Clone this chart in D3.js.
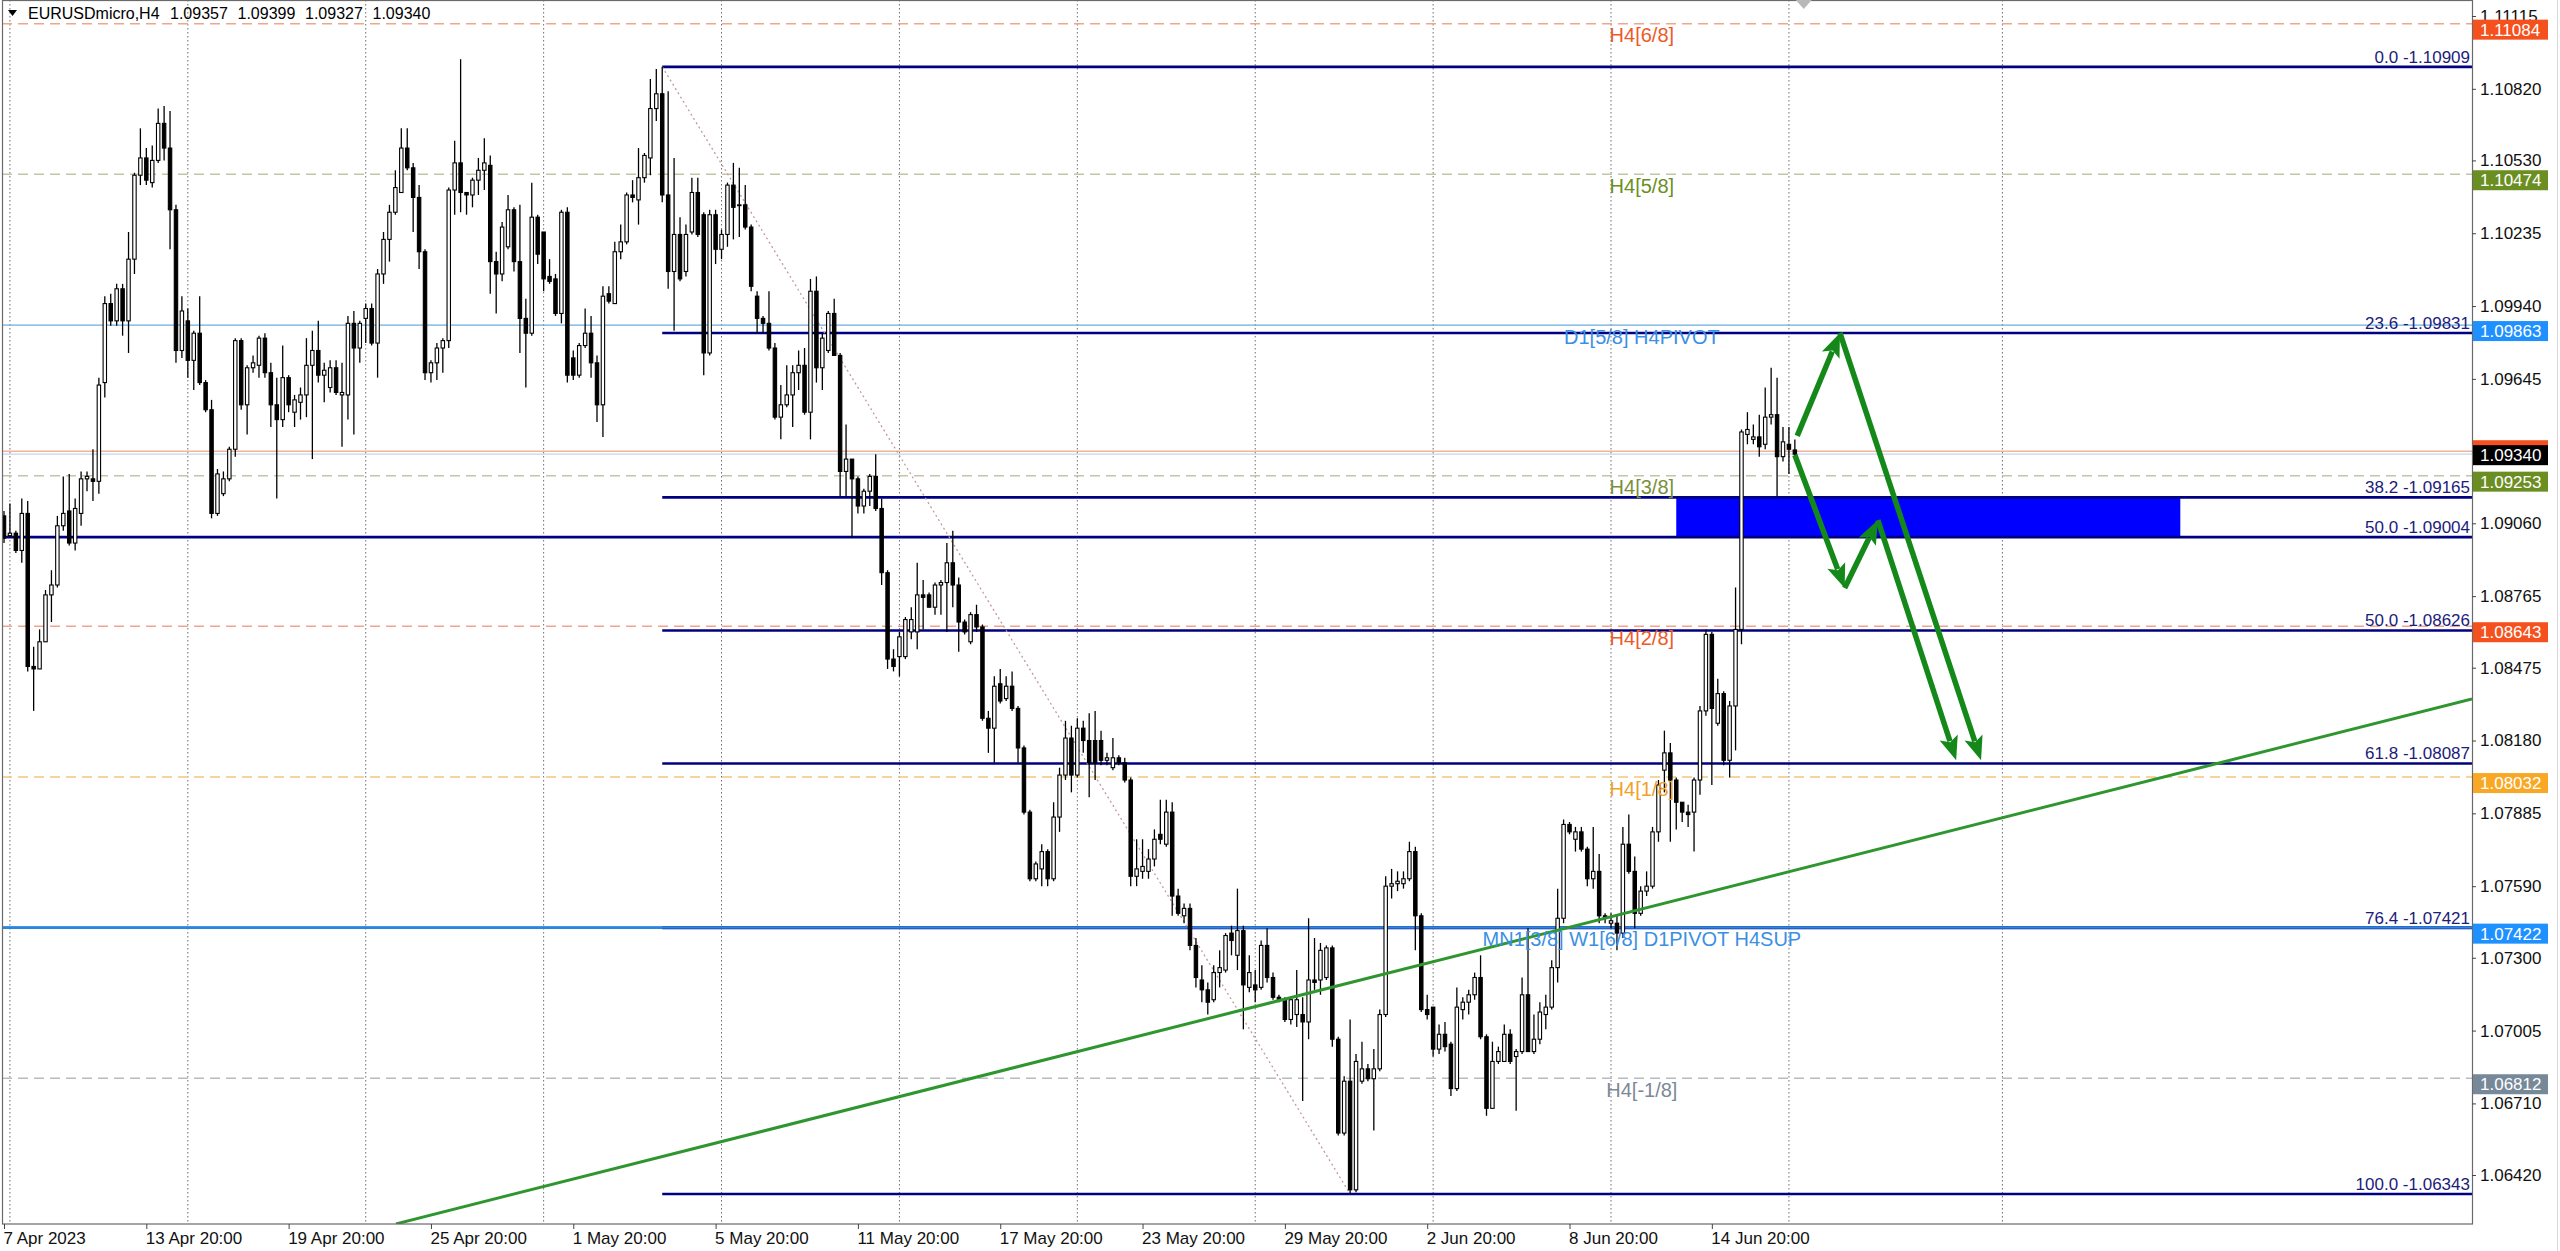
<!DOCTYPE html>
<html><head><meta charset="utf-8">
<script src="https://cdn.jsdelivr.net/npm/d3@7"></script>
<style>
html,body{margin:0;padding:0;background:#fff;overflow:hidden}
svg{display:block;font-family:"Liberation Sans",Arial,sans-serif}
</style></head><body>
<svg id="c" width="2560" height="1251"></svg>
<script>
// ---------------- DATA ----------------
const symbolTitle = "EURUSDmicro,H4";
const opens = [
1.0909,1.0901,1.0902,1.0895,1.0910,1.0848,1.0847,1.0858,1.0877,1.0881,
1.0905,1.0911,1.0898,1.0910,1.0924,1.0924,1.0923,1.0963,1.0995,1.0988,
1.1001,1.0988,1.1013,1.1047,1.1054,1.1044,1.1053,1.1068,1.1058,1.1033,
1.0976,1.0988,1.0972,1.0983,1.0963,1.0952,1.0910,1.0918,1.0924,1.0936,
1.0980,1.0954,1.0969,1.0970,1.0981,1.0967,1.0954,1.0948,1.0965,1.0951,
1.0955,1.0958,1.0970,1.0976,1.0966,1.0961,1.0969,1.0958,1.0958,1.0987,
1.0977,1.0989,1.0993,1.0979,1.1007,1.1021,1.1032,1.1040,1.1058,1.1050,
1.1038,1.1016,1.0967,1.0971,1.0977,1.0980,1.1041,1.1052,1.1040,1.1039,
1.1045,1.1049,1.1051,1.1012,1.1007,1.1018,1.1033,1.1012,1.0989,1.0983,
1.1030,1.1024,1.1006,1.1005,1.0991,1.1032,1.0973,1.0966,1.0978,1.0983,
1.0971,1.0954,1.0999,1.0995,1.1016,1.1020,1.1039,1.1037,1.1046,1.1054,
1.1074,1.1080,1.1039,1.1008,1.1023,1.1008,1.1024,1.1040,1.1031,1.0975,
1.1031,1.1017,1.1023,1.1043,1.1035,1.1035,1.1026,1.0998,1.0989,1.0987,
1.0977,1.0949,1.0954,1.0958,1.0967,1.0970,1.0951,1.1000,1.0969,1.0976,
1.0991,1.0974,1.0927,1.0932,1.0924,1.0913,1.0919,1.0925,1.0912,1.0886,
1.0851,1.0852,1.0852,1.0862,1.0862,1.0877,1.0877,1.0872,1.0881,1.0882,
1.0890,1.0881,1.0866,1.0858,1.0869,1.0864,1.0827,1.0823,1.0841,1.0835,
1.0840,1.0831,1.0815,1.0789,1.0762,1.0766,1.0773,1.0762,1.0787,1.0804,
1.0819,1.0804,1.0823,1.0818,1.0818,1.0818,1.0810,1.0807,1.0811,1.0809,
1.0802,1.0763,1.0765,1.0765,1.0770,1.0780,1.0776,1.0789,1.0755,1.0747,
1.0750,1.0735,1.0721,1.0717,1.0713,1.0724,1.0725,1.0740,1.0731,1.0741,
1.0718,1.0719,1.0718,1.0735,1.0722,1.0714,1.0713,1.0705,1.0707,1.0707,
1.0704,1.0721,1.0721,1.0722,1.0734,1.0697,1.0659,1.0680,1.0636,1.0680,
1.0685,1.0681,1.0685,1.0707,1.0759,1.0760,1.0760,1.0762,1.0773,1.0747,
1.0709,1.0710,1.0693,1.0699,1.0695,1.0677,1.0709,1.0712,1.0715,1.0722,
1.0698,1.0669,1.0688,1.0688,1.0699,1.0690,1.0692,1.0715,1.0692,1.0697,
1.0707,1.0710,1.0726,1.0746,1.0784,1.0778,1.0781,1.0774,1.0762,1.0765,
1.0747,1.0744,1.0744,1.0740,1.0776,1.0765,1.0748,1.0757,1.0759,1.0781,
1.0806,1.0813,1.0802,1.0793,1.0789,1.0789,1.0802,1.0830,1.0861,1.0825,
1.0837,1.0810,1.0832,1.0863,1.0942,1.0940,1.0941,1.0938,1.0949,1.0950,
1.0933,1.0938,1.09357];
const highs = [
1.0911,1.0914,1.0903,1.0916,1.0915,1.0856,1.0863,1.0879,1.0887,1.0909,
1.0925,1.0926,1.0916,1.0927,1.0927,1.0936,1.0965,1.0998,1.0999,1.1003,
1.1003,1.1024,1.1048,1.1066,1.1058,1.1059,1.1074,1.1075,1.1073,1.1035,
1.0998,1.0993,1.0984,1.0998,1.0964,1.0956,1.0928,1.0927,1.0937,1.0981,
1.0981,1.0970,1.0974,1.0982,1.0983,1.0971,1.0965,1.0978,1.0966,1.0958,
1.0961,1.0981,1.0984,1.0988,1.0971,1.0972,1.0972,1.0971,1.0990,1.0992,
1.0988,1.0995,1.0995,1.1009,1.1024,1.1035,1.1049,1.1066,1.1066,1.1052,
1.1043,1.1017,1.0972,1.0979,1.0981,1.1042,1.1061,1.1094,1.1040,1.1046,
1.1054,1.1062,1.1055,1.1016,1.1028,1.1039,1.1034,1.1035,1.0997,1.1044,
1.1031,1.1024,1.1013,1.1007,1.1033,1.1034,1.0976,1.0979,1.0993,1.0990,
1.0974,1.1002,1.1002,1.1020,1.1027,1.1040,1.1045,1.1058,1.1056,1.1086,
1.1090,1.10909,1.1081,1.1054,1.1030,1.1027,1.1046,1.1046,1.1032,1.1033,
1.1033,1.1025,1.1044,1.1052,1.1050,1.1043,1.1027,1.1000,1.0990,1.1000,
1.0979,1.0962,1.0970,1.0970,1.0976,1.0977,1.1005,1.1006,1.0983,1.0992,
1.0997,1.0975,1.0946,1.0932,1.0925,1.0920,1.0926,1.0934,1.0916,1.0887,
1.0855,1.0862,1.0868,1.0872,1.0890,1.0883,1.0878,1.0882,1.0883,1.0898,
1.0903,1.0884,1.0867,1.0870,1.0873,1.0865,1.0830,1.0844,1.0847,1.0844,
1.0846,1.0832,1.0816,1.0790,1.0769,1.0776,1.0774,1.0793,1.0807,1.0826,
1.0824,1.0827,1.0826,1.0829,1.0830,1.0822,1.0813,1.0819,1.0812,1.0811,
1.0803,1.0778,1.0778,1.0774,1.0782,1.0794,1.0794,1.0793,1.0758,1.0752,
1.0752,1.0738,1.0727,1.0720,1.0727,1.0733,1.0740,1.0743,1.0758,1.0743,
1.0731,1.0725,1.0737,1.0742,1.0724,1.0715,1.0714,1.0714,1.0725,1.0714,
1.0746,1.0738,1.0736,1.0735,1.0735,1.0698,1.0682,1.0705,1.0691,1.0696,
1.0687,1.0693,1.0709,1.0763,1.0766,1.0765,1.0765,1.0777,1.0775,1.0748,
1.0715,1.0710,1.0703,1.0704,1.0696,1.0718,1.0714,1.0717,1.0724,1.0731,
1.0699,1.0696,1.0694,1.0703,1.0701,1.0693,1.0722,1.0742,1.0707,1.0712,
1.0715,1.0729,1.0758,1.0786,1.0785,1.0783,1.0783,1.0775,1.0783,1.0772,
1.0748,1.0748,1.0747,1.0783,1.0788,1.0771,1.0759,1.0765,1.0783,1.0802,
1.0822,1.0817,1.0803,1.0793,1.0792,1.0803,1.0832,1.0863,1.0862,1.0843,
1.0838,1.0834,1.0880,1.0944,1.0951,1.0946,1.0950,1.0961,1.0969,1.0965,
1.0945,1.0945,1.09399];
const lows = [
1.0898,1.0900,1.0894,1.0890,1.0846,1.0830,1.0847,1.0858,1.0866,1.0880,
1.0903,1.0897,1.0895,1.0905,1.0919,1.0915,1.0918,1.0957,1.0986,1.0986,
1.0982,1.0975,1.1007,1.1043,1.1043,1.1042,1.1052,1.1053,1.1017,1.0971,
1.0973,1.0965,1.0960,1.0962,1.0951,1.0908,1.0909,1.0917,1.0923,1.0933,
1.0952,1.0942,1.0967,1.0965,1.0965,1.0945,1.0916,1.0945,1.0951,1.0945,
1.0948,1.0949,1.0932,1.0963,1.0955,1.0959,1.0958,1.0937,1.0948,1.0942,
1.0971,1.0979,1.0978,1.0965,1.1003,1.1012,1.1031,1.1040,1.1049,1.1024,
1.1009,1.0964,1.0963,1.0964,1.0967,1.0977,1.1031,1.1032,1.1031,1.1034,
1.1039,1.1041,1.0999,1.0991,1.1004,1.1017,1.1008,1.0975,1.0961,1.0982,
1.1011,1.1000,1.1003,1.0990,1.0987,1.0963,1.0964,1.0965,1.0977,1.0965,
1.0947,1.0941,1.0995,1.0995,1.1013,1.1019,1.1036,1.1027,1.1044,1.1047,
1.1069,1.1036,1.1001,1.0984,1.1004,1.1006,1.1023,1.1022,1.0966,1.0974,
1.1011,1.1013,1.1018,1.1021,1.1022,1.1025,1.1000,1.0983,1.0983,1.0976,
1.0948,1.0940,1.0953,1.0945,1.0960,1.0950,1.0940,1.0963,1.0960,1.0975,
1.0974,1.0917,1.0917,1.0900,1.0910,1.0910,1.0913,1.0911,1.0881,1.0847,
1.0846,1.0844,1.0851,1.0859,1.0855,1.0863,1.0872,1.0869,1.0869,1.0862,
1.0872,1.0854,1.0861,1.0857,1.0862,1.0826,1.0813,1.0809,1.0833,1.0834,
1.0830,1.0809,1.0788,1.0761,1.0761,1.0759,1.0759,1.0761,1.0781,1.0802,
1.0797,1.0803,1.0813,1.0795,1.0802,1.0808,1.0808,1.0806,1.0808,1.0801,
1.0759,1.0759,1.0762,1.0762,1.0767,1.0776,1.0775,1.0747,1.0747,1.0744,
1.0733,1.0718,1.0712,1.0707,1.0712,1.0718,1.0724,1.0731,1.0725,1.0701,
1.0716,1.0712,1.0717,1.0720,1.0713,1.0712,1.0704,1.0703,1.0702,1.0672,
1.0697,1.0717,1.0715,1.0721,1.0694,1.0658,1.0658,1.06343,1.0635,1.0679,
1.0680,1.0660,1.0684,1.0706,1.0754,1.0757,1.0758,1.0761,1.0733,1.0708,
1.0705,1.0690,1.0691,1.0692,1.0674,1.0676,1.0705,1.0707,1.0713,1.0697,
1.0666,1.0669,1.0687,1.0688,1.0687,1.0668,1.0691,1.0692,1.0691,1.0695,
1.0701,1.0709,1.0720,1.0744,1.0780,1.0773,1.0773,1.0759,1.0758,1.0744,
1.0744,1.0742,1.0733,1.0738,1.0764,1.0742,1.0747,1.0755,1.0758,1.0777,
1.0797,1.0777,1.0782,1.0785,1.0783,1.0773,1.0796,1.0828,1.0800,1.0824,
1.0808,1.0803,1.0814,1.0857,1.0938,1.0938,1.0933,1.0936,1.0946,1.0917,
1.0931,1.0926,1.09327];
const closes = [
1.0900,1.0902,1.0895,1.0910,1.0848,1.0847,1.0858,1.0877,1.0881,1.0905,
1.0910,1.0898,1.0912,1.0924,1.0925,1.0923,1.0962,1.0995,1.0988,1.1001,
1.0988,1.1013,1.1047,1.1054,1.1045,1.1053,1.1068,1.1058,1.1033,1.0976,
1.0992,1.0972,1.0983,1.0963,1.0952,1.0910,1.0926,1.0924,1.0936,1.0980,
1.0954,1.0969,1.0971,1.0981,1.0967,1.0954,1.0948,1.0965,1.0954,1.0956,
1.0958,1.0970,1.0976,1.0966,1.0968,1.0969,1.0959,1.0959,1.0987,1.0977,
1.0987,1.0993,1.0979,1.1007,1.1021,1.1032,1.1042,1.1058,1.1050,1.1038,
1.1016,1.0967,1.0971,1.0977,1.0980,1.1041,1.1052,1.1040,1.1039,1.1045,
1.1049,1.1052,1.1012,1.1007,1.1026,1.1033,1.1012,1.0989,1.0983,1.1030,
1.1015,1.1005,1.1004,1.0991,1.1032,1.0966,1.0966,1.0978,1.0983,1.0971,
1.0954,1.0998,1.0996,1.1016,1.1020,1.1039,1.1038,1.1046,1.1055,1.1074,
1.1080,1.1039,1.1008,1.1023,1.1005,1.1023,1.1040,1.1023,1.0975,1.1031,
1.1017,1.1023,1.1043,1.1034,1.1035,1.1026,1.1002,1.0989,1.0987,1.0977,
1.0949,1.0954,1.0958,1.0967,1.0970,1.0951,1.1000,1.0969,1.0981,1.0991,
1.0974,1.0927,1.0932,1.0924,1.0913,1.0919,1.0925,1.0912,1.0886,1.0851,
1.0848,1.0860,1.0867,1.0867,1.0877,1.0876,1.0872,1.0881,1.0882,1.0890,
1.0881,1.0866,1.0862,1.0869,1.0864,1.0827,1.0823,1.0840,1.0834,1.0840,
1.0831,1.0815,1.0789,1.0762,1.0768,1.0773,1.0762,1.0787,1.0804,1.0819,
1.0804,1.0823,1.0818,1.0809,1.0809,1.0810,1.0811,1.0811,1.0809,1.0802,
1.0763,1.0766,1.0767,1.0770,1.0778,1.0778,1.0789,1.0755,1.0748,1.0750,
1.0735,1.0722,1.0717,1.0712,1.0724,1.0726,1.0739,1.0737,1.0741,1.0719,
1.0724,1.0717,1.0735,1.0722,1.0714,1.0713,1.0705,1.0713,1.0713,1.0704,
1.0721,1.0720,1.0733,1.0734,1.0697,1.0659,1.0680,1.0636,1.0688,1.0685,
1.0681,1.0685,1.0707,1.0759,1.0760,1.0761,1.0762,1.0773,1.0747,1.0709,
1.0707,1.0693,1.0699,1.0694,1.0677,1.0710,1.0712,1.0715,1.0722,1.0698,
1.0669,1.0688,1.0692,1.0699,1.0688,1.0692,1.0715,1.0692,1.0697,1.0708,
1.0710,1.0726,1.0746,1.0784,1.0781,1.0781,1.0774,1.0762,1.0765,1.0747,
1.0746,1.0745,1.0740,1.0776,1.0765,1.0748,1.0757,1.0759,1.0781,1.0800,
1.0813,1.0802,1.0793,1.0789,1.0788,1.0802,1.0830,1.0861,1.0831,1.0837,
1.0810,1.0832,1.0863,1.0943,1.0944,1.0941,1.0937,1.0949,1.0950,1.0933,
1.0939,1.0936,1.09340];

// time axis labels (bar index of each label)
const timeBars = [0, 24, 48, 72, 96, 120, 144, 168, 192, 216, 240, 264, 288];
const timeLabels = ["7 Apr 2023","13 Apr 20:00","19 Apr 20:00","25 Apr 20:00","1 May 20:00","5 May 20:00",
  "11 May 20:00","17 May 20:00","23 May 20:00","29 May 20:00","2 Jun 20:00","8 Jun 20:00","14 Jun 20:00"];
const gridBars = [1, 31, 61, 91, 121, 151, 181, 211, 241, 271, 301, 337];

// price axis ticks
const priceTicks = [1.11115,1.10820,1.10530,1.10235,1.09940,1.09645,1.09350,1.09060,1.08765,
  1.08475,1.08180,1.07885,1.07590,1.07300,1.07005,1.06710,1.06420];

// level lines (Murrey / pivots)
const levelNames = ["H4[6/8]","H4[5/8]","D1[5/8] H4PIVOT","H4[3/8]","H4[2/8]","H4[1/8]","MN1[3/8] W1[6/8] D1PIVOT H4SUP","H4[-1/8]"];
const levelPrices = [1.11084,1.10474,1.09863,1.09253,1.08643,1.08032,1.07422,1.06812];

// Fibonacci retracement
const fibLevels = [0.0, 23.6, 38.2, 50.0, 61.8, 76.4, 100.0];
const fibPrices = [1.10909, 1.09831, 1.09165, 1.08626, 1.08087, 1.07421, 1.06343];
const fibAnchorBars = [111, 227];            // high bar, low bar
const fib2Levels = [50.0];
const fib2Prices = [1.09004];

// current price lines
const bidPrice = 1.09340;
const markPrice = 1.09352;

// drawn objects
const zoneBars = [282, 367];
const zonePrices = [1.09004, 1.09165];
const trendBars = [66.1, 416.19];
const trendPrices = [1.06222, 1.08348];
const arrowFromBars  = [302.4, 309.6, 302.0, 310.4, 316.0];
const arrowFromPrice = [1.09414, 1.09831, 1.09337, 1.08798, 1.09073];
const arrowToBars    = [309.6, 333.4, 310.4, 316.0, 329.2];
const arrowToPrice   = [1.09831, 1.08100, 1.08798, 1.09073, 1.08100];
const shiftMarkerBar = 303.5;

// ---------------- STYLES ----------------
const levelTextColor = ["#ec5a26","#6b8e23","#3b8fe4","#7a8f3a","#ec5a26","#f2a12a","#3b8fe4","#7d8895"];
const levelBoxColor  = ["#f4511e","#6b8e23","#1e90ff","#6b8e23","#f4511e","#f9a825","#1e90ff","#778899"];
const levelLineColor = ["#eba88c","#c6c4a4","#6aaede","#c6c4a4","#f0a68c","#f2c67e","#2a86e0","#b8bcc2"];
const levelDashed    = [true,true,false,true,true,true,false,true];
const levelWidth     = [1.5,1.5,1.3,1.5,1.5,1.5,2.6,1.5];
const labelCenterBar = 276.2;

// ---------------- CHART ----------------
const PL = 2, PR = 2472, PT = 0, PB = 1224;
const x = d3.scaleLinear().domain([0, 416.19]).range([4, 2472]);
const y = d3.scaleLinear().domain([1.062215, 1.111798]).range([1224, 0]);
const svg = d3.select("#c");
svg.append("rect").attr("width",2560).attr("height",1251).attr("fill","#fff");
svg.append("defs").append("clipPath").attr("id","pc")
  .append("rect").attr("x",PL).attr("y",PT).attr("width",PR-PL).attr("height",PB-PT);
const g = svg.append("g").attr("clip-path","url(#pc)");

// vertical grid
g.selectAll("line.grid").data(gridBars).join("line")
  .attr("x1",d=>x(d)).attr("x2",d=>x(d)).attr("y1",PT).attr("y2",PB)
  .attr("stroke","#6e6e6e").attr("stroke-width",1).attr("stroke-dasharray","1.5,2.5");

// level lines
g.selectAll("line.lvl").data(levelPrices).join("line")
  .attr("x1",PL).attr("x2",PR).attr("y1",d=>y(d)).attr("y2",d=>y(d))
  .attr("stroke",(d,i)=>levelLineColor[i]).attr("stroke-width",(d,i)=>levelWidth[i])
  .attr("stroke-dasharray",(d,i)=>levelDashed[i]?"10,6":null);

// current price lines
g.append("line").attr("x1",PL).attr("x2",PR).attr("y1",y(markPrice)).attr("y2",y(markPrice))
  .attr("stroke","#f0b49a").attr("stroke-width",1.4);
g.append("line").attr("x1",PL).attr("x2",PR).attr("y1",y(bidPrice)).attr("y2",y(bidPrice))
  .attr("stroke","#c9d3ea").attr("stroke-width",1.2);

// zone rectangle
g.append("rect").attr("x",x(zoneBars[0])).attr("width",x(zoneBars[1])-x(zoneBars[0]))
  .attr("y",y(zonePrices[1])).attr("height",y(zonePrices[0])-y(zonePrices[1])).attr("fill","#0000ff");

// fib lines
g.selectAll("line.fib").data(fibPrices).join("line")
  .attr("x1",x(fibAnchorBars[0])).attr("x2",PR).attr("y1",d=>y(d)).attr("y2",d=>y(d))
  .attr("stroke","#000080").attr("stroke-width",2.6);
g.selectAll("line.fib2").data(fib2Prices).join("line")
  .attr("x1",PL).attr("x2",PR).attr("y1",d=>y(d)).attr("y2",d=>y(d))
  .attr("stroke","#000080").attr("stroke-width",2.6);
// pivot line 1.07422 over fib 76.4
g.append("line").attr("x1",PL).attr("x2",PR).attr("y1",y(levelPrices[6])).attr("y2",y(levelPrices[6]))
  .attr("stroke",levelLineColor[6]).attr("stroke-width",2.4);
// fib diagonal
g.append("line").attr("x1",x(fibAnchorBars[0])).attr("y1",y(fibPrices[0]))
  .attr("x2",x(fibAnchorBars[1])).attr("y2",y(fibPrices[6]))
  .attr("stroke","#c39a9a").attr("stroke-width",1.3).attr("stroke-dasharray","2,3");

// candles
const n = Math.min(opens.length, highs.length, lows.length, closes.length);
const bars = d3.range(n).map(i=>({i,o:opens[i],h:highs[i],l:lows[i],c:closes[i]}));
const cg = g.append("g");
cg.selectAll("line.wick").data(bars).join("line")
  .attr("x1",d=>x(d.i)).attr("x2",d=>x(d.i)).attr("y1",d=>y(d.h)).attr("y2",d=>y(d.l))
  .attr("stroke","#000").attr("stroke-width",1.3);
cg.selectAll("rect.body").data(bars).join("rect")
  .attr("x",d=>x(d.i)-1.7).attr("width",3.4)
  .attr("y",d=>y(Math.max(d.o,d.c)))
  .attr("height",d=>Math.max(0.8, Math.abs(y(d.o)-y(d.c))))
  .attr("fill",d=>d.c>=d.o?"#fff":"#000").attr("stroke","#000").attr("stroke-width",1.1);

// trend line
g.append("line").attr("x1",x(trendBars[0])).attr("y1",y(trendPrices[0]))
  .attr("x2",x(trendBars[1])).attr("y2",y(trendPrices[1]))
  .attr("stroke","#2f962f").attr("stroke-width",3);

// arrows
const AG = "#14891a";
arrowFromBars.forEach((fb,k)=>{
  const x0=x(fb), y0=y(arrowFromPrice[k]), x1=x(arrowToBars[k]), y1=y(arrowToPrice[k]);
  const dx=x1-x0, dy=y1-y0, len=Math.hypot(dx,dy), ux=dx/len, uy=dy/len;
  const L=24, w=9.5;
  const bx=x1-ux*L, by=y1-uy*L;
  g.append("line").attr("x1",x0).attr("y1",y0).attr("x2",bx+ux*4).attr("y2",by+uy*4)
    .attr("stroke",AG).attr("stroke-width",5.5).attr("stroke-linecap","butt");
  g.append("path").attr("d",`M${x1},${y1}L${bx-uy*w},${by+ux*w}L${bx+ux*5},${by+uy*5}L${bx+uy*w},${by-ux*w}Z`)
    .attr("fill",AG);
});

// level labels
g.selectAll("text.lvl").data(levelPrices).join("text")
  .attr("x",x(labelCenterBar)).attr("y",d=>y(d)+18.5).attr("text-anchor","middle")
  .attr("font-size",20).attr("fill",(d,i)=>levelTextColor[i]).text((d,i)=>levelNames[i]);

// fib labels
g.selectAll("text.fib").data(fibPrices).join("text")
  .attr("x",PR-2).attr("y",d=>y(d)-4).attr("text-anchor","end").attr("font-size",17)
  .attr("fill","#1c1c7a").text((d,i)=>fibLevels[i].toFixed(1)+" -"+d.toFixed(5));
g.selectAll("text.fib2").data(fib2Prices).join("text")
  .attr("x",PR-2).attr("y",d=>y(d)-4).attr("text-anchor","end").attr("font-size",17)
  .attr("fill","#1c1c7a").text((d,i)=>fib2Levels[i].toFixed(1)+" -"+d.toFixed(5));

// frame
svg.append("rect").attr("x",PL+0.5).attr("y",0.5).attr("width",PR-PL).attr("height",PB-0.5)
  .attr("fill","none").attr("stroke","#6a6a6a").attr("stroke-width",1.2);
svg.append("line").attr("x1",2557.5).attr("x2",2557.5).attr("y1",0).attr("y2",1251).attr("stroke","#d6d6d6");

// chart shift marker
svg.append("path").attr("d",`M${x(shiftMarkerBar)-8},0L${x(shiftMarkerBar)+8},0L${x(shiftMarkerBar)},9Z`).attr("fill","#b8b8b8");

// price axis
const ya = svg.append("g").attr("transform",`translate(${PR},0)`)
  .call(d3.axisRight(y).tickValues(priceTicks).tickSize(4).tickSizeOuter(0).tickPadding(4).tickFormat(d3.format(".5f")));
ya.attr("font-size",17).attr("font-family","Liberation Sans, Arial, sans-serif");
ya.select(".domain").remove();
ya.selectAll(".tick line").attr("stroke","#444");
ya.selectAll(".tick text").attr("fill","#111");

// price boxes
const boxG = svg.append("g");
levelPrices.forEach((p,i)=>{
  boxG.append("rect").attr("x",PR+1).attr("y",y(p)-4).attr("width",75).attr("height",20).attr("fill",levelBoxColor[i]);
  boxG.append("text").attr("x",PR+8).attr("y",y(p)+12).attr("font-size",17).attr("fill","#fff").text(p.toFixed(5));
});
boxG.append("rect").attr("x",PR+1).attr("y",y(markPrice)-11).attr("width",75).attr("height",20).attr("fill","#f4511e");
boxG.append("rect").attr("x",PR+1).attr("y",y(bidPrice)-9).attr("width",75).attr("height",20).attr("fill","#000");
boxG.append("text").attr("x",PR+8).attr("y",y(bidPrice)+7).attr("font-size",17).attr("fill","#fff").text(bidPrice.toFixed(5));

// time axis
const xa = svg.append("g").attr("transform",`translate(0,${PB})`)
  .call(d3.axisBottom(x).tickValues(timeBars).tickSize(5).tickSizeOuter(0).tickPadding(3).tickFormat((d,i)=>timeLabels[i]));
xa.attr("font-size",17).attr("font-family","Liberation Sans, Arial, sans-serif");
xa.select(".domain").remove();
xa.selectAll(".tick line").attr("stroke","#444");
xa.selectAll(".tick text").attr("text-anchor","start").attr("x",-1).attr("fill","#111");

// title
svg.append("path").attr("d","M8,10L17,10L12.5,16Z").attr("fill","#000");
svg.append("text").attr("x",28).attr("y",19).attr("font-size",16).attr("fill","#000").text(symbolTitle);
const last = n-1;
[opens[last],highs[last],lows[last],closes[last]].forEach((v,k)=>{
  svg.append("text").attr("x",170+k*67.5).attr("y",19).attr("font-size",16).attr("fill","#000").text(v.toFixed(5));
});
</script>
</body></html>
